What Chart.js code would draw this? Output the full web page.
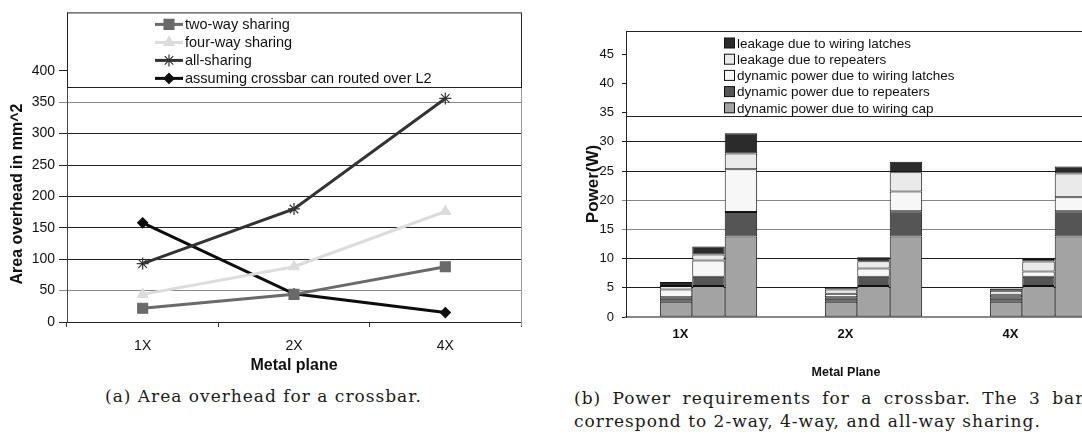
<!DOCTYPE html>
<html lang="en">
<head>
<meta charset="UTF-8">
<title>Crossbar area and power</title>
<script src="https://cdn.jsdelivr.net/npm/chart.js"></script>
<style>
  body { margin: 0; width: 1082px; height: 434px; overflow: hidden; background: #fff; position: relative; }
  #areaBox { position: absolute; left: 0; top: 0; width: 530px; height: 380px; }
  #powerBox { position: absolute; left: 530px; top: 0; width: 600px; height: 380px; }
  .cap { position: absolute; font-family: 'DejaVu Serif', serif; font-size: 17px; letter-spacing: 1px; line-height: 20px; color: #1a1a1a; white-space: nowrap; }
  #capB1 { width: 520px; text-align: justify; text-align-last: justify; }
</style>
</head>
<body>
<div id="areaBox"><canvas id="areaChart"></canvas></div>
<div id="powerBox"><canvas id="powerChart"></canvas></div>
<div class="cap" style="left:105px; top:386px;">(a) Area overhead for a crossbar.</div>
<div class="cap" id="capB1" style="left:574px; top:388px;">(b) Power requirements for a crossbar. The 3 bars</div>
<div class="cap" style="left:574px; top:411px;">correspond to 2-way, 4-way, and all-way sharing.</div>

<script>
const planes = ['1X', '2X', '4X'];

// (a) area overhead in mm^2
const twoWayArea = [22, 44, 88];
const fourWayArea = [44, 88, 176];
const allShareArea = [93, 180, 356];
const overL2Area = [158, 45, 15];
const areaTicksMax = 400;

// (b) power in W, rows: 2-way, 4-way, all-way sharing; columns follow planes
const sharingStacks = ['2-way', '4-way', 'all-way'];
const wiringCapDyn = [[2.6, 2.6, 2.6], [5.3, 5.3, 5.3], [13.8, 13.8, 13.8]];
const repeaterDyn = [[0.8, 0.8, 0.8], [1.6, 1.6, 1.6], [4.2, 4.3, 4.3]];
const latchDyn = [[1.3, 0.6, 0.4], [2.8, 1.4, 0.9], [7.3, 3.4, 2.4]];
const repeaterLeak = [[0.6, 0.7, 0.7], [1.0, 1.25, 1.7], [2.7, 3.3, 4.1]];
const latchLeak = [[0.7, 0.45, 0.4], [1.4, 0.7, 0.45], [3.5, 1.8, 1.2]];

const sans = "'Liberation Sans', Arial, sans-serif";
const narrow = "'Liberation Sans Narrow', 'Liberation Sans', Arial, sans-serif";

// free text drawn on the canvas (axis titles that overlap ticks)
function textPlugin(id, items) {
    return {
        id: id,
        afterDraw(chart) {
            const { ctx, chartArea: a } = chart;
            items.forEach(t => {
                const p = t.at(a);
                ctx.save();
                ctx.translate(p[0], p[1]);
                if (t.rot) ctx.rotate(t.rot);
                ctx.font = t.font;
                ctx.fillStyle = '#111';
                ctx.textAlign = 'center';
                ctx.textBaseline = 'middle';
                ctx.fillText(t.text, 0, 0);
                ctx.restore();
            });
        }
    };
}

// ---------- (a) ----------
const areaLegend = {
    id: 'areaLegend',
    afterDraw(chart) {
        const { ctx, chartArea: a, scales: { y } } = chart;
        const boxBottom = Math.round(y.getPixelForValue(375)) + 0.5;
        ctx.save();
        ctx.strokeStyle = '#999';
        ctx.lineWidth = 1;
        ctx.beginPath();
        ctx.moveTo(a.right + 0.5, boxBottom);
        ctx.lineTo(a.right + 0.5, a.bottom + 4);
        ctx.stroke();
        ctx.fillStyle = '#fff';
        ctx.fillRect(a.left, a.top, a.right - a.left, boxBottom - a.top);
        ctx.strokeStyle = '#222';
        ctx.strokeRect(a.left + 0.5, a.top + 0.5, a.right - a.left, boxBottom - a.top - 0.5);
        chart.data.datasets.forEach((ds, i) => {
            const cy = a.top + 12 + i * 18;
            ctx.strokeStyle = ds.borderColor;
            ctx.lineWidth = ds.borderWidth;
            ctx.beginPath();
            ctx.moveTo(a.left + 88, cy);
            ctx.lineTo(a.left + 116, cy);
            ctx.stroke();
            ctx.fillStyle = ds.pointBackgroundColor;
            ctx.strokeStyle = ds.pointBorderColor;
            ctx.lineWidth = ds.pointBorderWidth;
            Chart.helpers.drawPoint(ctx, { pointStyle: ds.pointStyle, radius: ds.pointRadius, rotation: 0, borderWidth: ds.pointBorderWidth }, a.left + 102, cy);
            ctx.fillStyle = '#111';
            ctx.font = '14.5px ' + sans;
            ctx.textAlign = 'left';
            ctx.textBaseline = 'middle';
            ctx.fillText(ds.label, a.left + 118, cy + 1);
        });
        ctx.restore();
    }
};

function lineSet(label, data, color, style, radius) {
    return {
        label: label, data: data,
        borderColor: color, borderWidth: 3,
        pointStyle: style, pointRadius: radius, pointHoverRadius: radius,
        pointBackgroundColor: color, pointBorderColor: color, pointBorderWidth: 1.2
    };
}

new Chart(document.getElementById('areaChart'), {
    type: 'line',
    data: {
        labels: planes,
        datasets: [
            lineSet('two-way sharing', twoWayArea, '#6a6a6a', 'rect', 7),
            lineSet('four-way sharing', fourWayArea, '#dcdcdc', 'triangle', 6),
            lineSet('all-sharing', allShareArea, '#333333', 'star', 6),
            lineSet('assuming crossbar can routed over L2', overL2Area, '#0d0d0d', 'rectRot', 5)
        ]
    },
    options: {
        responsive: true,
        maintainAspectRatio: false,
        animation: false,
        layout: { padding: { left: 0, top: 7, right: 9, bottom: 0 } },
        plugins: { legend: { display: false }, tooltip: { enabled: false } },
        scales: {
            x: {
                offset: true,
                afterFit: s => { s.height = 58; },
                grid: { offset: true, drawOnChartArea: false, tickLength: 5, color: '#333' },
                border: { color: '#222' },
                ticks: { padding: 11, color: '#111', font: { family: sans, size: 14 } }
            },
            y: {
                min: 0, max: 493,
                afterFit: s => { s.width = 67; },
                afterBuildTicks: s => { s.ticks = s.ticks.filter(t => t.value <= areaTicksMax); },
                grid: {
                    tickLength: 8,
                    color: c => (c.tick && (c.tick.value === 50 || c.tick.value === 350)) ? '#888' : '#222'
                },
                border: { color: '#444' },
                ticks: { stepSize: 50, includeBounds: false, padding: 4, color: '#111', font: { family: sans, size: 14 } }
            }
        }
    },
    plugins: [areaLegend, textPlugin('areaTitles', [
        { text: 'Area overhead in mm^2', font: 'bold 16px ' + sans, rot: -Math.PI / 2, at: a => [18, a.bottom - 128] },
        { text: 'Metal plane', font: 'bold 16px ' + sans, at: a => [(a.left + a.right) / 2, a.bottom + 44] }
    ])]
});

// ---------- (b) ----------
const components = [
    { name: 'dynamic power due to wiring cap', data: wiringCapDyn, color: '#a3a3a3' },
    { name: 'dynamic power due to repeaters', data: repeaterDyn, color: '#555555' },
    { name: 'dynamic power due to wiring latches', data: latchDyn, color: '#f7f7f7' },
    { name: 'leakage due to repeaters', data: repeaterLeak, color: '#eaeaea' },
    { name: 'leakage due to wiring latches', data: latchLeak, color: '#2b2b2b' }
];

const powerSets = [];
components.forEach(c => {
    sharingStacks.forEach((s, k) => {
        powerSets.push({
            label: c.name, stack: s, data: c.data[k],
            backgroundColor: c.color, borderColor: '#111', borderWidth: 1, borderSkipped: false
        });
    });
});

const powerLegend = {
    id: 'powerLegend',
    afterDraw(chart) {
        const { ctx, chartArea: a, scales: { y } } = chart;
        const boxBottom = Math.round(y.getPixelForValue(34.5)) + 0.5;
        ctx.save();
        ctx.fillStyle = '#fff';
        ctx.fillRect(a.left, a.top, chart.width, boxBottom - a.top);
        ctx.strokeStyle = '#222';
        ctx.lineWidth = 1;
        ctx.strokeRect(a.left + 0.5, a.top + 0.5, chart.width, boxBottom - a.top - 0.5);
        components.slice().reverse().forEach((c, i) => {
            const cy = a.top + 12 + i * 16.2;
            ctx.fillStyle = c.color;
            ctx.fillRect(a.left + 98.5, cy - 5, 10, 10);
            ctx.strokeStyle = '#111';
            ctx.strokeRect(a.left + 98.5, cy - 5, 10, 10);
            ctx.fillStyle = '#111';
            ctx.font = '13.5px ' + sans;
            ctx.textAlign = 'left';
            ctx.textBaseline = 'middle';
            ctx.fillText(c.name, a.left + 111, cy + 1);
        });
        ctx.restore();
    }
};

new Chart(document.getElementById('powerChart'), {
    type: 'bar',
    data: { labels: planes, datasets: powerSets },
    options: {
        responsive: true,
        maintainAspectRatio: false,
        animation: false,
        categoryPercentage: 0.59,
        barPercentage: 1.0,
        layout: { padding: { left: 0, top: 31, right: 9, bottom: 0 } },
        plugins: { legend: { display: false }, tooltip: { enabled: false } },
        scales: {
            x: {
                stacked: true,
                afterFit: s => { s.height = 63; },
                grid: { display: false },
                border: { color: '#888', width: 2 },
                ticks: { padding: 2, labelOffset: -28, color: '#111', font: { family: narrow, size: 13, weight: 'bold' } }
            },
            y: {
                stacked: true,
                min: 0, max: 49,
                afterFit: s => { s.width = 96; },
                grid: {
                    tickLength: 4,
                    color: c => (c.tick && (c.tick.value === 15 || c.tick.value === 20)) ? '#888' : '#1a1a1a'
                },
                border: { color: '#222' },
                ticks: { stepSize: 5, includeBounds: false, padding: 8, color: '#111', font: { family: sans, size: 13 } }
            }
        }
    },
    plugins: [powerLegend, textPlugin('powerTitles', [
        { text: 'Power(W)', font: 'bold 17px ' + sans, rot: -Math.PI / 2, at: a => [a.left - 33, 184] },
        { text: 'Metal Plane', font: 'bold 12.5px ' + narrow, at: a => [a.left + 220, a.bottom + 56] }
    ])]
});
</script>
</body>
</html>
